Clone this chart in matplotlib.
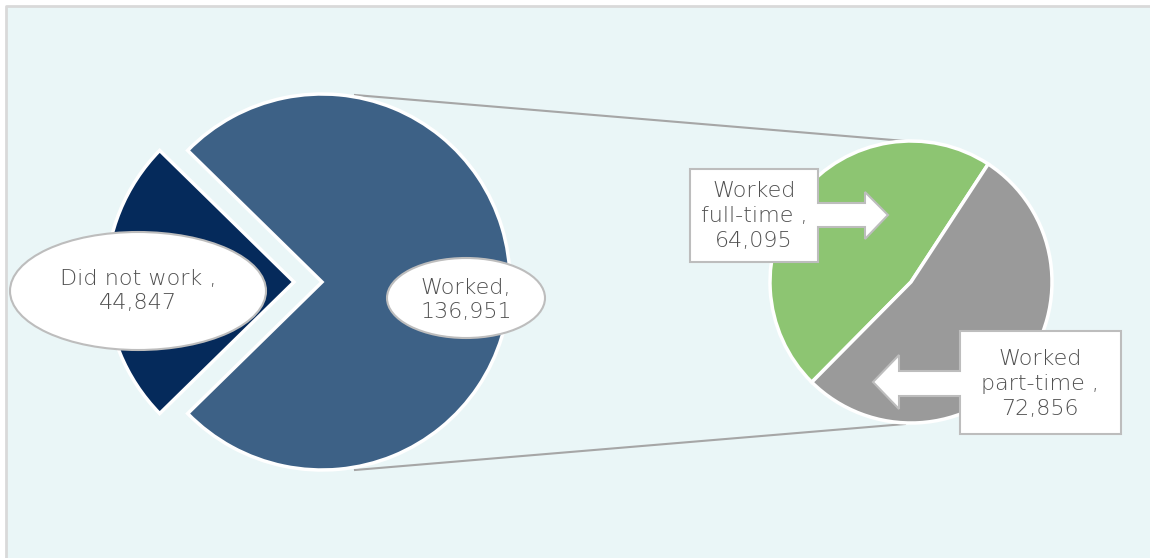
import matplotlib.pyplot as plt
from matplotlib.patches import Rectangle, Ellipse, Polygon

# data
main_labels = ["Did not work", "Worked"]
main_values = [44847, 136951]
sub_labels = ["Worked\nfull-time", "Worked\npart-time"]
sub_values = [64095, 72856]

main_colors = ["#052A5B", "#3D6186"]
sub_colors = ["#8DC572", "#9A9A9A"]
txt_color = "#505050"
edge_gray = "#BDBDBD"

W, H = 1150, 558
fig = plt.figure(figsize=(11.5, 5.58), dpi=100)
ax = fig.add_axes([0, 0, 1, 1])


def py(y):
    # pixel row -> data y
    return H - y


# panel background (border only on top and left)
ax.add_patch(Rectangle((6, 0), W, py(6), facecolor="#EAF6F7",
                       edgecolor="none", zorder=0))
ax.plot([6, 6, W], [0, py(6), py(6)], color="#D9D9D9", lw=2, zorder=0.5)

# connector lines between the two pies
ax.plot([355, 905], [py(95), py(141)], color="#A6A6A6", lw=1.5, zorder=1)
ax.plot([355, 905], [py(470), py(424)], color="#A6A6A6", lw=1.5, zorder=1)

# main pie
frac_dnw = main_values[0] / sum(main_values)
ax.pie(main_values, colors=main_colors, center=(322, py(282)), radius=188,
       startangle=180 - frac_dnw * 180, counterclock=True, explode=[28, 0],
       wedgeprops=dict(edgecolor="white", linewidth=2.5), frame=True)

# second pie
ax.pie(sub_values, colors=sub_colors, center=(911, py(282)), radius=141,
       startangle=56.8, counterclock=True,
       wedgeprops=dict(edgecolor="white", linewidth=2.5), frame=True)

ax.set_xlim(0, W)
ax.set_ylim(0, H)
ax.set_aspect("equal")
ax.axis("off")

fs = 16
font = dict(family="DejaVu Sans", weight=200)

# ellipse labels
ax.add_patch(Ellipse((138, py(291)), 256, 118, facecolor="white",
                     edgecolor=edge_gray, linewidth=1.5, zorder=5))
ax.text(138, py(291), f"{main_labels[0]} ,\n{main_values[0]:,}", ha="center",
        va="center", fontsize=fs, color=txt_color, zorder=6, linespacing=1.3,
        **font)

ax.add_patch(Ellipse((466, py(298)), 158, 80, facecolor="white",
                     edgecolor=edge_gray, linewidth=1.5, zorder=5))
ax.text(466, py(300), f"{main_labels[1]},\n{main_values[1]:,}", ha="center",
        va="center", fontsize=fs, color=txt_color, zorder=6, linespacing=1.25,
        **font)

# arrow callouts
ft = [(690, 169), (818, 169), (818, 203), (865, 203), (865, 192), (888, 215),
      (865, 239), (865, 227), (818, 227), (818, 262), (690, 262)]
ax.add_patch(Polygon([(x, py(y)) for x, y in ft], closed=True,
                     facecolor="white", edgecolor=edge_gray, linewidth=1.5,
                     zorder=5))
ax.text(754, py(216), f"{sub_labels[0]} ,\n{sub_values[0]:,}", ha="center",
        va="center", fontsize=fs, color=txt_color, zorder=6, linespacing=1.3,
        **font)

pt = [(1121, 331), (960, 331), (960, 371), (899, 371), (899, 355), (873, 382),
      (899, 409), (899, 396), (960, 396), (960, 434), (1121, 434)]
ax.add_patch(Polygon([(x, py(y)) for x, y in pt], closed=True,
                     facecolor="white", edgecolor=edge_gray, linewidth=1.5,
                     zorder=5))
ax.text(1040, py(384), f"{sub_labels[1]} ,\n{sub_values[1]:,}", ha="center",
        va="center", fontsize=fs, color=txt_color, zorder=6, linespacing=1.3,
        **font)

fig.savefig("out.png", dpi=100, facecolor="white")
